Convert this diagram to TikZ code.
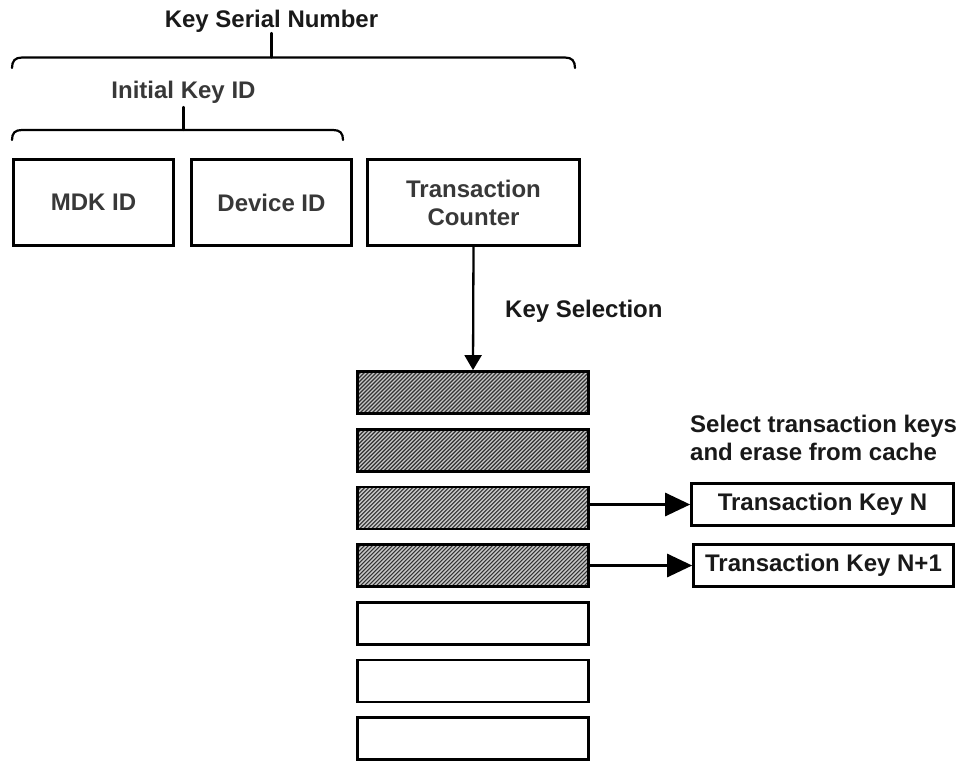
\documentclass[tikz,border=0pt]{standalone}
\usepackage{fontspec}
\setmainfont{Liberation Sans}
\usetikzlibrary{arrows.meta}
\begin{document}
\begin{tikzpicture}[x=1pt,y=-1pt,
  lbl/.style={font=\bfseries\fontsize{24}{28}\selectfont, text=black!90, inner sep=0pt},
  glbl/.style={font=\bfseries\fontsize{24}{28}\selectfont, text=black!78, inner sep=0pt},
  idbox/.style={draw=black, line width=2.8pt, align=center, inner sep=0pt,
    font=\bfseries\fontsize{24}{28}\selectfont, text=black!78},
  keybox/.style={draw=black, line width=2.8pt, minimum width=231pt, minimum height=42pt, inner sep=0pt},
  hatchline/.style={line width=1.15pt, black!80},
  hatched/.style={keybox, fill=black!22,
    path picture={\foreach \k in {0,...,72}
      \draw[hatchline] ([xshift=\k*4pt-50pt]path picture bounding box.south west) -- ++(50pt,50pt);}},
  outbox/.style={draw=black, line width=2.6pt, minimum height=42pt, inner sep=0pt,
    font=\bfseries\fontsize{24}{28}\selectfont, text=black!90},
  brace/.style={line width=2.2pt, line cap=round},
  varr/.style={line width=2.3pt, -{Triangle[length=15pt,width=17pt]}},
  harr/.style={line width=2.8pt, -{Triangle[length=25pt,width=23pt]}}]
\useasboundingbox (0,0) rectangle (959,761);

% top labels and braces
\node[lbl, anchor=base] (ksn) at (271.5,27) {Key Serial Number};
\coordinate (ksnt) at (271.5,57.5);
\draw[brace] (ksn.south |- 0,33) -- (ksnt);
\draw[brace] (12,68) .. controls (12,61) and (15,57.5) .. (22,57.5) -- (565,57.5)
  .. controls (572,57.5) and (575,61) .. (575,68);

\node[glbl, anchor=base] (ikid) at (183.5,98) {Initial Key ID};
\coordinate (ikidt) at (183.5,130);
\draw[brace] (ikid.south |- 0,107) -- (ikidt);
\draw[brace] (12,140) .. controls (12,133) and (15,130) .. (22,130) -- (333,130)
  .. controls (340,130) and (343,133) .. (343,140);

% id boxes
\node[idbox, minimum width=160pt, minimum height=86pt] (mdk) at (93.5,202.5) {MDK ID};
\node[idbox, minimum width=160pt, minimum height=86pt] (dev) at (271.5,202.5) {Device ID};
\node[idbox, minimum width=212pt, minimum height=86pt] (tc) at (473.5,202.5) {Transaction\\Counter};

\node[lbl, anchor=base west] (ksel) at (505,317) {Key Selection};

% key stack
\node[hatched] (s1) at (473,392.5) {};
\node[hatched] (s2) at (473,450.2) {};
\node[hatched] (s3) at (473,507.9) {};
\node[hatched] (s4) at (473,565.6) {};
\node[keybox] (s5) at (473,623.3) {};
\node[keybox] (s6) at (473,681.0) {};
\node[keybox] (s7) at (473,738.7) {};

\draw[varr] (tc.south) -- (s1.north);

\node[lbl, anchor=north west, align=left] (sel) at (690,415) {Select transaction keys\\and erase from cache};

\node[outbox, minimum width=262pt] (tkn) at (822.5,504.5) {Transaction Key N};
\node[outbox, minimum width=260pt] (tkn1) at (823.5,565.5) {Transaction Key N+1};

\draw[harr] (s3.east |- tkn.west) -- (tkn.west);
\draw[harr] (s4.east |- tkn1.west) -- (tkn1.west);
\end{tikzpicture}
\end{document}
